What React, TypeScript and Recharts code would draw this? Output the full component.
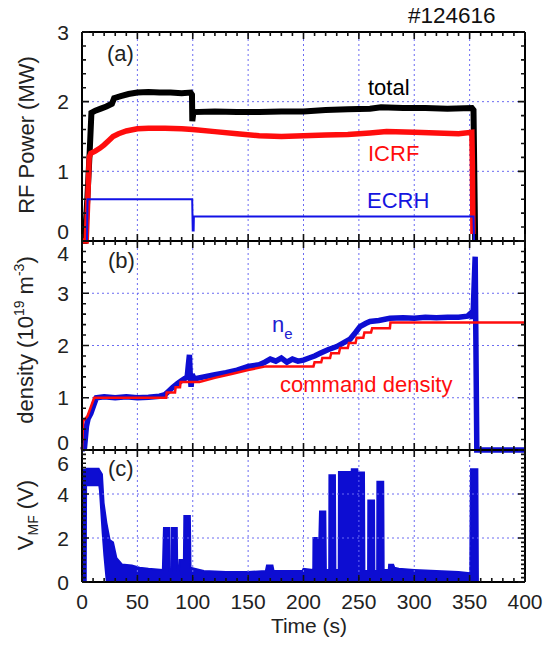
import { ComposedChart, Line, Area, XAxis, YAxis, ReferenceLine } from "recharts";

const W = 559;
const H = 646;
const FONT = '"Liberation Sans", Arial, Helvetica, sans-serif';
const BLUE = "#0d0dd2";
const RED = "#ff0d0d";
const GRID = "#6b6bf2";
const LEFT = 82;
const RIGHT = 525;

// time axis (s)
const xMajor = [0, 50, 100, 150, 200, 250, 300, 350, 400];
const xLabels = ["0", "50", "100", "150", "200", "250", "300", "350", "400"];
const xGrid = [50, 100, 150, 200, 250, 300, 350];

// y axes of the three panels
const yMajorA = [0, 1, 2, 3];
const yLabelsA = ["0", "1", "2", "3"];
const yGridA = [1, 2];
const yMajorB = [0, 1, 2, 3, 4];
const yLabelsB = ["0", "1", "2", "3", "4"];
const yGridB = [1, 2, 3];
const yMajorC = [0, 2, 4, 6];
const yLabelsC = ["0", "2", "4", "6"];
const yGridC = [2, 4];

// (a) RF power, MW
const totalT = [0, 2.5, 4.8, 7, 8.5, 12, 17, 22, 27, 29, 35, 42, 50, 60, 70, 80, 90, 98, 99.3, 99.6, 100.6, 120, 140, 160, 180, 200, 220, 240, 260, 270, 290, 310, 330, 352, 353.5, 355];
const totalP = [0, 0, 0.6, 1.3, 1.84, 1.87, 1.9, 1.93, 1.97, 2.05, 2.08, 2.11, 2.13, 2.14, 2.13, 2.13, 2.12, 2.13, 2.1, 1.72, 1.85, 1.86, 1.85, 1.85, 1.86, 1.86, 1.88, 1.89, 1.9, 1.92, 1.91, 1.91, 1.9, 1.91, 1.88, 0];
const icrfT = [0, 3.8, 5, 6.5, 8, 12, 16, 20, 24, 28, 33, 40, 50, 60, 75, 90, 100, 120, 140, 160, 180, 200, 220, 240, 260, 275, 300, 320, 340, 352, 352.5, 353];
const icrfP = [0, 0, 0.5, 1.2, 1.26, 1.29, 1.33, 1.38, 1.44, 1.5, 1.54, 1.58, 1.61, 1.62, 1.62, 1.61, 1.6, 1.57, 1.54, 1.51, 1.5, 1.51, 1.52, 1.53, 1.55, 1.57, 1.56, 1.55, 1.54, 1.56, 1.1, 0.1];
const ecrhT = [0, 4.5, 5, 99.5, 100, 100.8, 101, 353.5, 354, 400];
const ecrhP = [0, 0, 0.6, 0.6, 0.15, 0.15, 0.35, 0.35, 0, 0];

// (b) density, 10^19 m^-3
const neT = [0, 2.3, 4, 5.5, 8, 10, 13, 20, 30, 40, 50, 60, 70, 75, 78, 82, 86, 90, 93, 95, 96, 97, 97.8, 98.5, 99.5, 101, 110, 120, 130, 140, 150, 160, 165, 170, 175, 180, 185, 190, 195, 200, 205, 210, 215, 222, 230, 236, 242, 247, 251, 256, 260, 268, 278, 290, 300, 310, 320, 330, 340, 348, 351, 353, 355, 356.5, 400];
const neV = [0, 0.05, 0.45, 0.6, 0.7, 0.82, 1.0, 1.02, 1.0, 1.02, 1.0, 1.01, 1.03, 1.06, 1.12, 1.2, 1.27, 1.33, 1.37, 1.4, 1.62, 1.82, 1.4, 1.21, 1.45, 1.36, 1.4, 1.44, 1.48, 1.53, 1.6, 1.63, 1.68, 1.74, 1.7, 1.76, 1.68, 1.74, 1.7, 1.72, 1.76, 1.8, 1.85, 1.92, 1.98, 2.05, 2.12, 2.25, 2.36, 2.42, 2.46, 2.48, 2.52, 2.53, 2.52, 2.54, 2.53, 2.54, 2.54, 2.56, 2.62, 2.52, 3.7, 0, 0];
const cmdT = [0, 1, 5, 11, 76, 76.5, 84, 84.5, 88.5, 89, 106, 120, 136, 150, 166, 209, 210, 216, 217, 224, 225, 232, 233, 240, 241, 247, 248, 254, 255, 261, 262, 278, 278.5, 400];
const cmdV = [0, 0.55, 0.65, 1.0, 1.0, 1.1, 1.1, 1.2, 1.2, 1.3, 1.3, 1.38, 1.46, 1.53, 1.6, 1.6, 1.68, 1.68, 1.76, 1.76, 1.85, 1.85, 1.95, 1.95, 2.05, 2.05, 2.15, 2.15, 2.25, 2.25, 2.33, 2.33, 2.44, 2.44];

// (c) V_MF, V: upper envelope, and the lower envelope where the signal never reaches 0
const vmfT = [0, 4, 4.2, 15, 15.5, 18, 19.5, 22, 25, 28, 31, 36, 45, 52, 60, 73, 74, 78.7, 79, 80.8, 81, 85.6, 86, 87.5, 88, 92, 92.4, 97.4, 98, 110, 130, 150, 166, 167, 172, 173, 199, 200, 208.8, 209, 214.3, 214.9, 219.7, 220.2, 223.2, 223.4, 228.4, 228.8, 231.8, 232, 243.5, 243.6, 248.6, 249, 249.4, 254.6, 255, 258.3, 258.5, 263.7, 264, 266.5, 266.7, 272, 272.4, 277, 277.3, 281, 282, 286, 300, 320, 340, 350.5, 351.2, 357, 357.5, 400];
const vmfHi = [5.1, 5.1, 5.15, 5.15, 5.1, 4.9, 3.6, 2.7, 1.9, 1.8, 1.1, 0.8, 0.75, 0.65, 0.6, 0.55, 2.45, 2.45, 0.5, 0.5, 2.45, 2.45, 0.5, 0.5, 1.0, 1.0, 3.0, 3.0, 0.65, 0.5, 0.45, 0.45, 0.5, 0.75, 0.75, 0.5, 0.5, 0.6, 0.55, 2.0, 2.0, 3.2, 3.2, 0.55, 0.55, 4.85, 4.85, 0.55, 0.55, 5.0, 5.0, 5.12, 5.12, 1.0, 4.98, 4.98, 0.5, 0.5, 3.7, 3.7, 0.5, 0.5, 4.56, 4.56, 0.55, 0.55, 0.78, 0.78, 0.65, 0.6, 0.55, 0.5, 0.45, 0.4, 5.12, 5.12, 0, 0];
const holeT = [4.3, 4.6, 14.8, 15.3, 17.8, 19.3, 21.5];
const holeLo = [0, 4.35, 4.35, 4.15, 2.2, 1.2, 0];

const zip = (t: number[], v: number[]) => t.map((x, i) => ({ t: x, v: v[i] }));
const totalData = zip(totalT, totalP);
const icrfData = zip(icrfT, icrfP);
const ecrhData = zip(ecrhT, ecrhP);
const neData = zip(neT, neV);
const cmdData = zip(cmdT, cmdV);
const vmfData = zip(vmfT, vmfHi);
const holeData = zip(holeT, holeLo);

const steps = (lo: number, hi: number, d: number) => {
  const out: number[] = [];
  for (let i = 0; lo + i * d <= hi + 1e-9; i++) out.push(+(lo + i * d).toFixed(4));
  return out;
};
const xTicks = steps(0, 400, 10);
const isMajor = (majors: number[], v: number) => majors.some((m) => Math.abs(m - v) < 1e-6);

// panel frames in page pixels (plot top / bottom), used for the inward tick marks
const panels = [
  { top: 32, bottom: 241, yMax: 3, major: yMajorA },
  { top: 241, bottom: 450, yMax: 4, major: yMajorB },
  { top: 450, bottom: 582, yMax: 6, major: yMajorC },
];

function labelFn(side: "left" | "bottom", majors: number[], labels: string[] | null, nudge?: (v: number) => number) {
  return (p: any) => {
    const v = p.payload.value;
    const mi = majors.findIndex((m) => Math.abs(m - v) < 1e-6);
    if (!labels || mi < 0) return <g />;
    if (side === "left")
      return (
        <text x={p.x - 13} y={p.y + 7.5 + (nudge ? nudge(v) : 0)} textAnchor="end" fontSize={21} fontFamily={FONT} fill="#222">
          {labels[mi]}
        </text>
      );
    return (
      <text x={p.x} y={p.y + 27} textAnchor="middle" fontSize={21} fontFamily={FONT} fill="#222">
        {labels[mi]}
      </text>
    );
  };
}

const axisLine = { stroke: "#000", strokeWidth: 2 };

// axes need a size of at least 1px or recharts skips them
function frame(yMax: number, yMajor: number[], yLabels: string[], yGrid: number[], showX: boolean, nudge: (v: number) => number) {
  const yTicks = steps(0, yMax, 0.2);
  const common = { tickSize: 0, tickMargin: 0, tickLine: false, interval: 0 as const, axisLine };
  const out: any[] = [
    <XAxis key="xb" dataKey="t" type="number" domain={[0, 400]} ticks={xTicks} height={1} {...common}
      tick={labelFn("bottom", xMajor, showX ? xLabels : null)} />,
    <XAxis key="xt" xAxisId="top" orientation="top" dataKey="t" type="number" domain={[0, 400]} ticks={xTicks} height={1} {...common}
      tick={false} />,
    <YAxis key="yl" type="number" domain={[0, yMax]} ticks={yTicks} width={1} {...common}
      tick={labelFn("left", yMajor, yLabels, nudge)} />,
    <YAxis key="yr" yAxisId="right" orientation="right" type="number" domain={[0, yMax]} ticks={yTicks} width={1} {...common}
      tick={false} />,
  ];
  xGrid.forEach((g) =>
    out.push(<ReferenceLine key={"gx" + g} x={g} stroke={GRID} strokeWidth={1} strokeDasharray="2 3" />)
  );
  yGrid.forEach((g) =>
    out.push(<ReferenceLine key={"gy" + g} y={g} stroke={GRID} strokeWidth={1} strokeDasharray="2 3" />)
  );
  return out;
}

function TickMarks() {
  const segs: string[] = [];
  panels.forEach((p) => {
    const h = p.bottom - p.top;
    xTicks.forEach((t) => {
      const x = LEFT + (t / 400) * (RIGHT - LEFT);
      const len = isMajor(xMajor, t) ? 7 : 4;
      segs.push(`M${x},${p.bottom}v${-len}`, `M${x},${p.top}v${len}`);
    });
    steps(0, p.yMax, 0.2).forEach((v) => {
      const y = p.bottom - (v / p.yMax) * h;
      const len = isMajor(p.major, v) ? 7 : 4;
      segs.push(`M${LEFT},${y}h${len}`, `M${RIGHT},${y}h${-len}`);
    });
  });
  return <path d={segs.join("")} stroke="#111" strokeWidth={1.6} fill="none" />;
}

const layer: React.CSSProperties = { position: "absolute", left: 0, top: 0 };

export default function App() {
  return (
    <div style={{ position: "absolute", left: 0, top: 0, width: W, height: H, background: "#fff", fontFamily: FONT }}>
      {/* (a) RF power */}
      <div style={layer}>
        <ComposedChart width={W} height={H} margin={{ top: 31, right: 33, bottom: 404, left: 81 }}>
          {frame(3, yMajorA, yLabelsA, yGridA, false, (v) => (v === 0 ? -10 : 0))}
          <Line data={totalData} dataKey="v" type="linear" stroke="#000" strokeWidth={6} dot={false} isAnimationActive={false} />
          <Line data={icrfData} dataKey="v" type="linear" stroke={RED} strokeWidth={5.5} dot={false} isAnimationActive={false} />
          <Line data={ecrhData} dataKey="v" type="linear" stroke="#1212e6" strokeWidth={2} dot={false} isAnimationActive={false} />
        </ComposedChart>
      </div>
      {/* (b) density */}
      <div style={layer}>
        <ComposedChart width={W} height={H} margin={{ top: 240, right: 33, bottom: 195, left: 81 }}>
          {frame(4, yMajorB, yLabelsB, yGridB, false, (v) => (v === 4 ? 12 : v === 0 ? -8 : 0))}
          <Line data={neData} dataKey="v" type="linear" stroke={BLUE} strokeWidth={5.5} dot={false} isAnimationActive={false} />
          <Line data={cmdData} dataKey="v" type="linear" stroke={RED} strokeWidth={2.5} dot={false} isAnimationActive={false} />
        </ComposedChart>
      </div>
      {/* (c) V_MF */}
      <div style={layer}>
        <ComposedChart width={W} height={H} margin={{ top: 449, right: 33, bottom: 63, left: 81 }}>
          {frame(6, yMajorC, yLabelsC, yGridC, true, (v) => (v === 6 ? 13 : 0))}
          <Area data={vmfData} dataKey="v" type="linear" baseValue={0} stroke={BLUE} strokeWidth={2} fill={BLUE} fillOpacity={1} dot={false} isAnimationActive={false} />
          <Area data={holeData} dataKey="v" type="linear" baseValue={0} stroke="none" fill="#fff" fillOpacity={1} dot={false} isAnimationActive={false} />
        </ComposedChart>
      </div>
      {/* tick marks and texts */}
      <svg width={W} height={H} style={{ ...layer, pointerEvents: "none" }} fontFamily={FONT}>
        <TickMarks />
        <text x={408} y={23} fontSize={22.5} fill="#111">#124616</text>
        <text x={107} y={61} fontSize={22} fill="#222">(a)</text>
        <text x={108} y={268} fontSize={22} fill="#222">(b)</text>
        <text x={108} y={476} fontSize={22} fill="#222">(c)</text>
        <text x={368} y={95} fontSize={22} fill="#000">total</text>
        <text x={368} y={161} fontSize={22} fill={RED}>ICRF</text>
        <text x={367} y={208} fontSize={22} fill="#1515e0">ECRH</text>
        <text x={272} y={332} fontSize={22} fill="#2020d0">
          n<tspan fontSize={15} dy={7}>e</tspan>
        </text>
        <text x={280} y={392} fontSize={22} fill={RED}>command density</text>
        <text x={309} y={633} fontSize={21} fill="#222" textAnchor="middle">Time (s)</text>
        <text transform="translate(34,135) rotate(-90)" fontSize={22} fill="#222" textAnchor="middle">RF Power (MW)</text>
        <text transform="translate(33,340) rotate(-90)" fontSize={22} fill="#222" textAnchor="middle">
          density (10<tspan fontSize={14} dy={-9}>19</tspan>
          <tspan dy={9}> m</tspan>
          <tspan fontSize={14} dy={-9}>-3</tspan>
          <tspan dy={9}>)</tspan>
        </text>
        <text transform="translate(33,515) rotate(-90)" fontSize={22} fill="#222" textAnchor="middle">
          V<tspan fontSize={14} dy={5}>MF</tspan>
          <tspan dy={-5}> (V)</tspan>
        </text>
      </svg>
    </div>
  );
}
